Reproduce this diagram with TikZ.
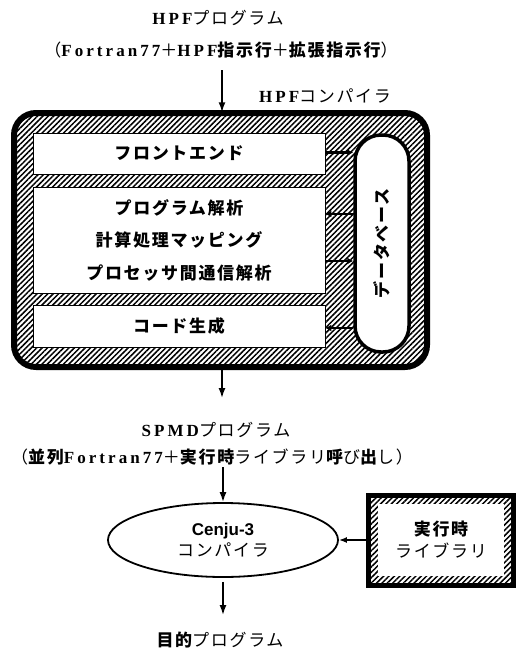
\documentclass[tikz,border=0pt]{standalone}
\usepackage{fontspec}
\setmainfont{Liberation Serif}
\newfontfamily\jp[LetterSpace=10]{Noto Sans CJK JP}
\newfontfamily\lat[LetterSpace=18]{Liberation Serif}
\newfontfamily\lsans{Liberation Sans}
\usetikzlibrary{patterns.meta,arrows.meta,shapes.geometric}
\tikzset{
  hatch/.style={pattern={Lines[angle=45,distance=3.8pt,line width=1.5pt]}},
  txt/.style={inner sep=1pt, font=\fontsize{17}{19}\selectfont},
  arr/.style={line width=1.6pt, -{Latex[length=10pt,width=7pt]}},
  inbox/.style={draw, line width=0.6pt, fill=white, minimum width=292pt},
  conn/.style={line width=2.4pt, -{Latex[length=6pt,width=7pt]}},
}
\begin{document}
\begin{tikzpicture}[x=1pt,y=-1pt]
\useasboundingbox (0,0) rectangle (516,648);
% top texts
\node[txt] (t1) at (218,18) {{\lat\bfseries HPF}{\jp プログラム}};
\node[txt] (t2) at (221,50) {{\jp （}{\lat\bfseries Fortran77}{\jp ＋}{\lat\bfseries HPF}{\jp\bfseries 指示行}{\jp ＋}{\jp\bfseries 拡張指示行}{\jp ）}};
\node[txt] (hc) at (325,96) {{\lat\bfseries HPF}{\jp コンパイラ}};
% HPF compiler
\node[draw, line width=6pt, rounded corners=22pt, hatch, minimum width=413pt, minimum height=254pt] (hpf) at (220.5,240) {};
\node[inbox, minimum height=41pt] (fe) at (179,153.5) {};
\node[inbox, minimum height=106pt] (mid) at (179,240) {};
\node[inbox, minimum height=42pt] (cg) at (179,326) {};
\node[txt] at (fe) {\jp\bfseries フロントエンド};
\node[align=center, inner sep=1pt, font=\jp\bfseries\fontsize{17}{32.5}\selectfont] at (mid) {プログラム解析\\計算処理マッピング\\プロセッサ間通信解析};
\node[txt] at (cg) {\jp\bfseries コード生成};
\node[draw, line width=3.5pt, fill=white, rounded corners=26pt, minimum width=54pt, minimum height=217pt] (db) at (382,243.5) {};
\node[txt, rotate=90] at (db) {\jp\bfseries データベース};
% connectors to database
\coordinate (f1) at ([yshift=1pt]fe.east);
\coordinate (m1) at ([yshift=26pt]mid.east);
\coordinate (m2) at ([yshift=-21pt]mid.east);
\coordinate (c1) at ([yshift=-2pt]cg.east);
\draw[conn] (f1) -- (f1 -| db.west);
\draw[conn] (m1 -| db.west) -- (m1);
\draw[conn] (m2) -- (m2 -| db.west);
\draw[conn] (c1 -| db.west) -- (c1);
% arrows
\coordinate (a0) at (222,70);
\draw[arr] (a0) -- (a0 |- hpf.north);
\coordinate (a1) at (222,398);
\draw[arr] (a1 |- hpf.south) -- (a1);
\node[txt] (spmd) at (216,430) {{\lat\bfseries SPMD}{\jp プログラム}};
\node[txt] (t3) at (212,457) {{\jp （}{\jp\bfseries 並列}{\lat\bfseries Fortran77}{\jp ＋}{\jp\bfseries 実行時}{\jp ライブラリ}{\jp\bfseries 呼}{\jp び}{\jp\bfseries 出}{\jp し）}};
% Cenju-3
\node[draw, ellipse, line width=1.8pt, minimum width=230pt, minimum height=74pt, align=center, font=\fontsize{17}{21}\selectfont] (cc) at (223,540) {{\lsans\bfseries Cenju-3}\\{\jp コンパイラ}};
\coordinate (a2) at (223,467);
\draw[arr] (a2) -- (a2 |- cc.north);
% runtime library
\node[draw, line width=5pt, hatch, minimum width=145pt, minimum height=90pt] (rt) at (441,540) {};
\node[fill=white, minimum width=126pt, minimum height=72pt, align=center, font=\fontsize{17}{22}\selectfont] (rti) at (rt) {{\jp\bfseries 実行時}\\{\jp ライブラリ}};
\draw[line width=2pt, -{Latex[length=8pt,width=6pt]}] (rt.west) -- (cc.east);
% output
\node[txt] (out) at (220,640) {{\jp\bfseries 目的}{\jp プログラム}};
\coordinate (a3) at (223,615);
\draw[arr] ([yshift=-4pt]cc.south) -- (a3);
\end{tikzpicture}
\end{document}
